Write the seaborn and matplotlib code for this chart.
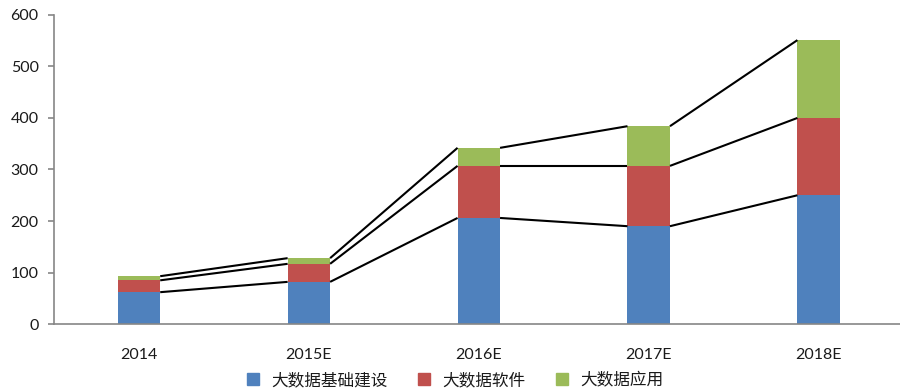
import matplotlib
matplotlib.use("Agg")
import matplotlib.pyplot as plt
import seaborn as sns
import pandas as pd
import numpy as np
from matplotlib.lines import Line2D

years = ["2014", "2015E", "2016E", "2017E", "2018E"]
infra = [62, 82, 206, 190, 250]      # 大数据基础建设
software = [23, 35, 101, 117, 150]   # 大数据软件
apps = [8, 11, 35, 77, 151]          # 大数据应用
series_names = ["大数据基础建设", "大数据软件", "大数据应用"]
colors = ["#4F81BD", "#C0504D", "#9BBB59"]

sns.set_theme(style="white")
plt.rcParams["font.family"] = ["Lato", "Noto Sans CJK SC", "DejaVu Sans"]

df = pd.DataFrame({"year": years, "infra": infra, "software": software, "apps": apps})
df["c1"] = df["infra"]
df["c2"] = df["c1"] + df["software"]
df["c3"] = df["c2"] + df["apps"]

fig = plt.figure(figsize=(9, 3.91), dpi=100)
ax = fig.add_axes([0.06, 0.171, 0.944, 0.791])

bar_w = 0.25
# stacked bars drawn as cumulative heights, tallest first
for col, color in zip(["c3", "c2", "c1"], colors[::-1]):
    sns.barplot(data=df, x="year", y=col, color=color, width=bar_w,
                saturation=1, ax=ax, linewidth=0)

# series lines joining the tops of each segment between neighbouring bars
for col in ["c1", "c2", "c3"]:
    vals = df[col].to_numpy()
    for i in range(len(vals) - 1):
        ax.plot([i + bar_w / 2, i + 1 - bar_w / 2], [vals[i], vals[i + 1]],
                color="black", lw=1.5, solid_capstyle="butt", zorder=3)

ax.set_xlim(-0.5, 4.5)
ax.set_ylim(0, 600)
ax.set_yticks(range(0, 601, 100))
ax.set_xlabel("")
ax.set_ylabel("")
for s in ["top", "right"]:
    ax.spines[s].set_visible(False)
for s in ["left", "bottom"]:
    ax.spines[s].set_color("#868686")
    ax.spines[s].set_linewidth(1.2)
ax.tick_params(axis="y", which="major", left=True, length=4, width=1.2,
               color="#868686", pad=7, labelsize=11.5, labelcolor="#1a1a1a")
ax.tick_params(axis="x", which="major", bottom=False, pad=11,
               labelsize=11.5, labelcolor="#1a1a1a")

handles = [Line2D([], [], marker="s", linestyle="", markersize=8,
                  markerfacecolor=c, markeredgecolor=c) for c in colors]
fig.legend(handles, series_names, loc="center", bbox_to_anchor=(0.5, 0.027),
           ncol=3, frameon=False, handletextpad=0.1,
           columnspacing=1.2, prop={"family": ["Noto Sans CJK SC", "DejaVu Sans"], "size": 12},
           labelcolor="#1a1a1a")

fig.savefig("out.png", dpi=100)
